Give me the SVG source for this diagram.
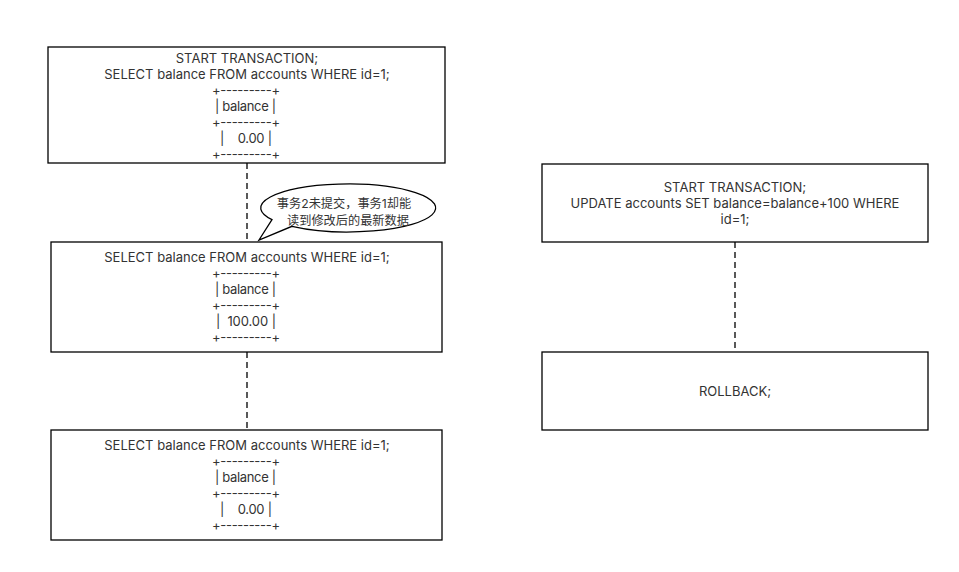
<svg xmlns="http://www.w3.org/2000/svg" width="959" height="572" viewBox="0 0 959 572">
<style>
.box{fill:#fff;stroke:#000;stroke-width:1.3}
.conn{stroke:#000;stroke-width:1.3;stroke-dasharray:6 4;fill:none}
text{font-family:Inter,"Noto Sans CJK SC",sans-serif;font-size:13px;fill:#333;text-anchor:middle;white-space:pre}
.cjk{font-size:12.2px}
</style>
<rect width="959" height="572" fill="#fff"/>
<g id="connectors">
<line class="conn" x1="247" y1="163" x2="247" y2="241"/>
<line class="conn" x1="247" y1="352" x2="247" y2="430"/>
<line class="conn" x1="735" y1="242" x2="735" y2="352"/>
</g>
<g id="node1">
<rect class="box" x="48" y="47" width="397" height="116"/>
<text xml:space="preserve"><tspan x="247" y="63">START TRANSACTION;</tspan><tspan x="247" y="79">SELECT balance FROM accounts WHERE id=1;</tspan><tspan x="246" y="95" textLength="68" lengthAdjust="spacing">+---------+</tspan><tspan x="245.5" y="111" textLength="61" lengthAdjust="spacing">| balance |</tspan><tspan x="246" y="127" textLength="68" lengthAdjust="spacing">+---------+</tspan><tspan x="246" y="143" textLength="52" lengthAdjust="spacing">|    0.00 |</tspan><tspan x="246" y="159" textLength="68" lengthAdjust="spacing">+---------+</tspan></text>
</g>
<g id="callout">
<path class="box" d="M272 219.7 L259 240 L292 226.3 A87.5 24 0 1 0 272 219.7 Z"/>
<text class="cjk"><tspan x="344" y="208">事务2未提交，事务1却能</tspan><tspan x="348" y="224.5">读到修改后的最新数据</tspan></text>
</g>
<g id="node2">
<rect class="box" x="51" y="242" width="391" height="110"/>
<text xml:space="preserve"><tspan x="247" y="262">SELECT balance FROM accounts WHERE id=1;</tspan><tspan x="246" y="278" textLength="68" lengthAdjust="spacing">+---------+</tspan><tspan x="245.5" y="294" textLength="61" lengthAdjust="spacing">| balance |</tspan><tspan x="246" y="310" textLength="68" lengthAdjust="spacing">+---------+</tspan><tspan x="246" y="326" textLength="60" lengthAdjust="spacing">|  100.00 |</tspan><tspan x="246" y="342" textLength="68" lengthAdjust="spacing">+---------+</tspan></text>
</g>
<g id="node3">
<rect class="box" x="51" y="430" width="391" height="110"/>
<text xml:space="preserve"><tspan x="247" y="450">SELECT balance FROM accounts WHERE id=1;</tspan><tspan x="246" y="466" textLength="68" lengthAdjust="spacing">+---------+</tspan><tspan x="245.5" y="482" textLength="61" lengthAdjust="spacing">| balance |</tspan><tspan x="246" y="498" textLength="68" lengthAdjust="spacing">+---------+</tspan><tspan x="246" y="514" textLength="52" lengthAdjust="spacing">|    0.00 |</tspan><tspan x="246" y="530" textLength="68" lengthAdjust="spacing">+---------+</tspan></text>
</g>
<g id="node4">
<rect class="box" x="542" y="164" width="386" height="78"/>
<text><tspan x="735" y="192">START TRANSACTION;</tspan><tspan x="735" y="208">UPDATE accounts SET balance=balance+100 WHERE</tspan><tspan x="735" y="224">id=1;</tspan></text>
</g>
<g id="node5">
<rect class="box" x="542" y="352" width="386" height="78"/>
<text x="735" y="396">ROLLBACK;</text>
</g>
</svg>
